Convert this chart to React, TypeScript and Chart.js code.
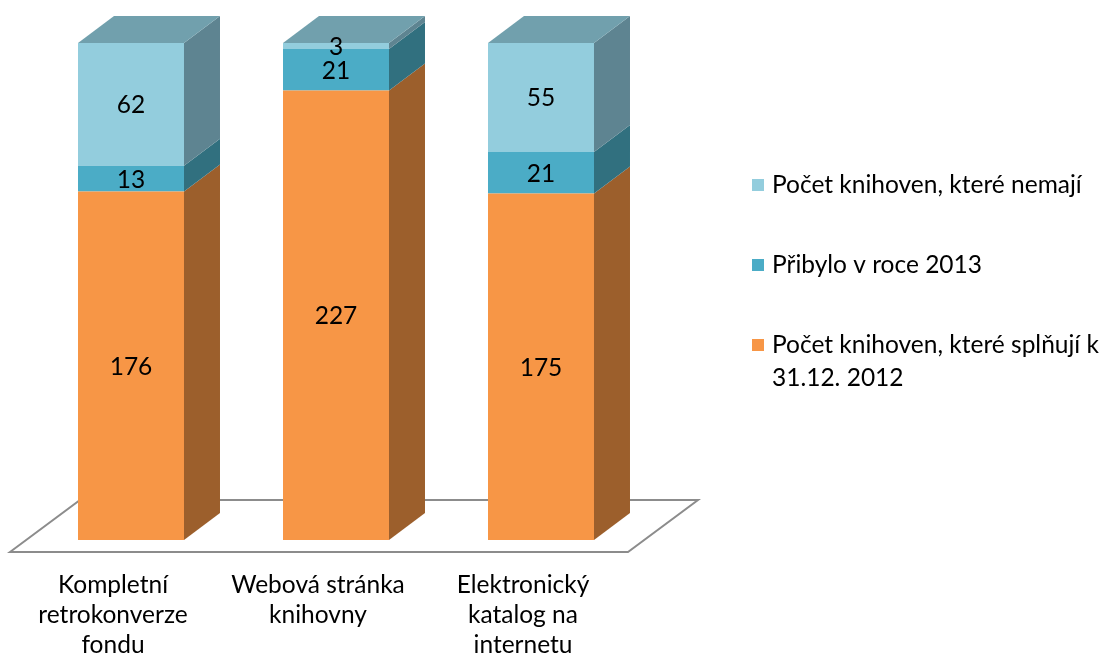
import React, { useEffect, useRef } from "react";
import { Chart, registerables } from "chart.js";

Chart.register(...registerables);

const categories: string[][] = [
  ["Kompletní", "retrokonverze", "fondu"],
  ["Webová stránka", "knihovny"],
  ["Elektronický", "katalog na", "internetu"],
];
const seriesNames: string[] = [
  "Počet knihoven, které splňují k 31.12. 2012",
  "Přibylo v roce 2013",
  "Počet knihoven, které nemají",
];
const legendLines: string[][] = [
  ["Počet knihoven, které splňují k", "31.12. 2012"],
  ["Přibylo v roce 2013"],
  ["Počet knihoven, které nemají"],
];
const splnuji: number[] = [176, 227, 175];
const pribylo: number[] = [13, 21, 21];
const nemaji: number[] = [62, 3, 55];
const yMax = 251;

const frontColors = ["#F79646", "#4BACC6", "#93CDDD"];
const sideColors = ["#9C5F2C", "#31707F", "#5E8491"];
const topColor = "#71A0AD";

const FONT = "Lato, Carlito, Calibri, 'Open Sans', sans-serif";
const FS = 24.5;
const DX = 36;
const DY = 27;

const threeD = {
  id: "threeD",
  beforeDatasetsDraw(chart: any) {
    const ctx = chart.ctx;
    const y = chart.scales.y;
    const ca = chart.chartArea;
    const base = y.getPixelForValue(0);
    const fy = base + 12;
    const by = base - 40;
    ctx.save();
    ctx.beginPath();
    ctx.moveTo(ca.left - 18.5, fy);
    ctx.lineTo(ca.left - 18.5 + 70, by);
    ctx.lineTo(ca.right + 54.5, by);
    ctx.lineTo(ca.right + 54.5 - 70, fy);
    ctx.closePath();
    ctx.fillStyle = "#FFFFFF";
    ctx.fill();
    ctx.strokeStyle = "#8C8C8C";
    ctx.lineWidth = 2;
    ctx.stroke();
    ctx.restore();
  },
  afterDatasetsDraw(chart: any) {
    const ctx = chart.ctx;
    const n = chart.data.datasets.length;
    ctx.save();
    for (let d = 0; d < n; d++) {
      const meta = chart.getDatasetMeta(d);
      meta.data.forEach((el: any) => {
        const right = el.x + el.width / 2;
        const left = el.x - el.width / 2;
        const top = Math.min(el.y, el.base);
        const bot = Math.max(el.y, el.base);
        ctx.beginPath();
        ctx.moveTo(right, bot);
        ctx.lineTo(right + DX, bot - DY);
        ctx.lineTo(right + DX, top - DY);
        ctx.lineTo(right, top);
        ctx.closePath();
        ctx.fillStyle = sideColors[d];
        ctx.fill();
        if (d === n - 1) {
          ctx.beginPath();
          ctx.moveTo(left, top);
          ctx.lineTo(left + DX, top - DY);
          ctx.lineTo(right + DX, top - DY);
          ctx.lineTo(right, top);
          ctx.closePath();
          ctx.fillStyle = topColor;
          ctx.fill();
        }
      });
    }
    // data labels
    ctx.fillStyle = "#000000";
    ctx.font = `${FS}px ${FONT}`;
    ctx.textAlign = "center";
    ctx.textBaseline = "middle";
    for (let d = 0; d < n; d++) {
      const meta = chart.getDatasetMeta(d);
      meta.data.forEach((el: any, i: number) => {
        const v = chart.data.datasets[d].data[i];
        ctx.fillText(String(v), el.x, (el.y + el.base) / 2 + 1);
      });
    }
    ctx.restore();
  },
  afterDraw(chart: any) {
    const ctx = chart.ctx;
    const x = chart.scales.x;
    ctx.save();
    ctx.fillStyle = "#000000";
    ctx.font = `${FS}px ${FONT}`;
    ctx.textAlign = "center";
    ctx.textBaseline = "middle";
    categories.forEach((lines, i) => {
      const cx = x.getPixelForTick(i) - 18;
      lines.forEach((ln, j) => ctx.fillText(ln, cx, 585 + j * 30));
    });
    // legend (reverse order)
    const n = chart.data.datasets.length;
    ctx.textAlign = "left";
    for (let k = 0; k < n; k++) {
      const d = n - 1 - k;
      const cy = 185 + k * 80;
      ctx.fillStyle = chart.data.datasets[d].backgroundColor;
      ctx.fillRect(752, cy - 6, 12, 12);
      ctx.fillStyle = "#000000";
      legendLines[d].forEach((ln, j) => ctx.fillText(ln, 772, cy + j * 33));
    }
    ctx.restore();
  },
};

export default function App() {
  const ref = useRef<HTMLCanvasElement | null>(null);
  useEffect(() => {
    if (!ref.current) return;
    const chart = new Chart(ref.current, {
      type: "bar",
      data: {
        labels: categories.map((c) => c.join(" ")),
        datasets: [
          { label: seriesNames[0], data: splnuji, backgroundColor: frontColors[0] },
          { label: seriesNames[1], data: pribylo, backgroundColor: frontColors[1] },
          { label: seriesNames[2], data: nemaji, backgroundColor: frontColors[2] },
        ],
      },
      options: {
        responsive: false,
        animation: false,
        layout: { padding: { left: 28.5, right: 463.5, top: 43, bottom: 124 } },
        datasets: { bar: { barPercentage: 0.517, categoryPercentage: 1, borderWidth: 0 } } as any,
        scales: {
          x: { display: false, stacked: true },
          y: { display: false, stacked: true, min: 0, max: yMax },
        },
        plugins: { legend: { display: false }, tooltip: { enabled: false } },
      },
      plugins: [threeD],
    });
    return () => chart.destroy();
  }, []);
  return (
    <div style={{ position: "fixed", left: 0, top: 0, width: 1107, height: 664, background: "#fff" }}>
      <canvas ref={ref} width={1107} height={664} />
    </div>
  );
}
